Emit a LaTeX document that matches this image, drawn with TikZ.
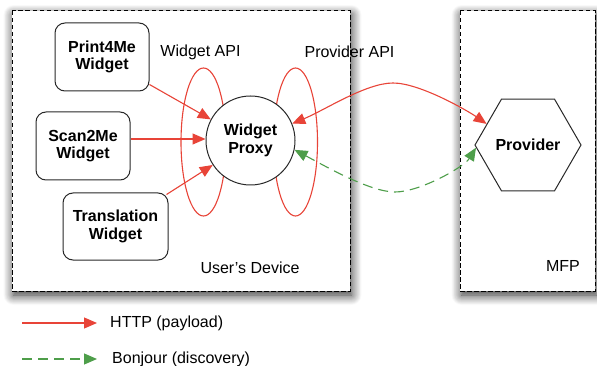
\documentclass[tikz,border=0pt]{standalone}
\usepackage{fontspec}
\setmainfont{Liberation Sans}
\usetikzlibrary{arrows.meta,shapes.geometric,shadows.blur}
\definecolor{httpred}{RGB}{232,68,56}
\definecolor{bonjourgreen}{RGB}{78,158,74}
\definecolor{edgegray}{RGB}{40,40,40}
\tikzset{
  tip/.style={-{Triangle[length=13pt,width=11pt]}},
  bothtips/.style={{Triangle[length=13pt,width=11pt]}-{Triangle[length=13pt,width=11pt]}},
  zone/.style={draw=black, line width=1pt, dash pattern=on 4.5pt off 2.5pt, fill=white,
    blur shadow={shadow xshift=1.5pt, shadow yshift=-4pt, shadow blur radius=10pt,
      shadow blur steps=12, shadow opacity=85}},
  widget/.style={draw=edgegray, line width=1pt, rounded corners=10pt, fill=white,
    font=\fontsize{16}{17.5}\selectfont\bfseries, align=center, inner sep=0pt},
  proxy/.style={draw=edgegray, line width=1pt, circle, fill=white, minimum size=89pt,
    inner sep=0pt, font=\fontsize{16}{17.5}\selectfont\bfseries, align=center},
  hexa/.style={draw=edgegray, line width=1pt, regular polygon, regular polygon sides=6,
    minimum size=90pt, inner sep=0pt, fill=white, font=\fontsize{16}{17.5}\selectfont\bfseries},
  apiring/.style={draw=httpred, line width=1.1pt, ellipse, inner sep=0pt},
  label/.style={font=\fontsize{16}{17.5}\selectfont, inner sep=0pt},
  http/.style={draw=httpred, line width=1.1pt},
  bonjour/.style={draw=bonjourgreen, line width=1.1pt, dash pattern=on 10pt off 6pt},
}
\begin{document}
\begin{tikzpicture}[x=1pt,y=-1pt]
\useasboundingbox (0,0) rectangle (597,366);

% device and printer zones
\path[zone] (12,11) rectangle (350,291);
\path[zone] (460,11) rectangle (595,291);

% API rings around the proxy
\node[apiring, minimum width=45pt, minimum height=148pt] (wapi) at (203.5,142) {};
\node[apiring, minimum width=44pt, minimum height=148pt] (papi) at (295.5,142) {};

% widgets and proxy
\node[widget, minimum width=94pt, minimum height=68pt] (print) at (102,57) {Print4Me\\Widget};
\node[widget, minimum width=94pt, minimum height=68pt] (scan) at (83,146) {Scan2Me\\Widget};
\node[widget, minimum width=105pt, minimum height=67pt] (trans) at (115.5,226.5) {Translation\\Widget};
\node[proxy] (proxy) at (250.5,140.5) {Widget\\Proxy};

% provider on the MFP
\node[hexa] (prov) at (528,145) {Provider};

% zone and API labels
\node[label] (lwapi) at (200.5,52) {Widget API};
\node[label] (lpapi) at (349.5,52) {Provider API};
\node[label] (ldev) at (250,268) {User's Device};
\node[label] (lmfp) at (563,266) {MFP};

% payload traffic from the widgets
\draw[http, tip] (print.south east) ++(0,-7) coordinate (p1) -- (proxy.152);
\draw[http, tip] (scan.east |- 0,139) coordinate (s1) -- (proxy.west |- 0,139);
\draw[http, tip] (trans.north east) ++(-2,2) coordinate (t1) -- (proxy.213);

% payload between proxy and provider, over the gap
\coordinate (htop) at (393,83);
\draw[http, bothtips] (proxy.22) .. controls (325,110) and (366,83) .. (htop)
  .. controls (420,83) and (468,111) .. (prov.153);

% discovery between proxy and provider, under the gap
\coordinate (bbot) at (395,192);
\draw[bonjour, bothtips] (proxy.-12) .. controls (325,166) and (370,192) .. (bbot)
  .. controls (420,192) and (464,167) .. (prov.183);

% legend
\coordinate (h1) at (22,323);
\coordinate (h2) at (97,323);
\draw[http, tip] (h1) -- (h2);
\node[label, anchor=west] (lh) at (110,323) {HTTP (payload)};
\coordinate (b1) at (22,359);
\coordinate (b2) at (97,359);
\draw[bonjour, tip] (b1) -- (b2);
\node[label, anchor=west] (lb) at (112,359) {Bonjour (discovery)};
\end{tikzpicture}
\end{document}
